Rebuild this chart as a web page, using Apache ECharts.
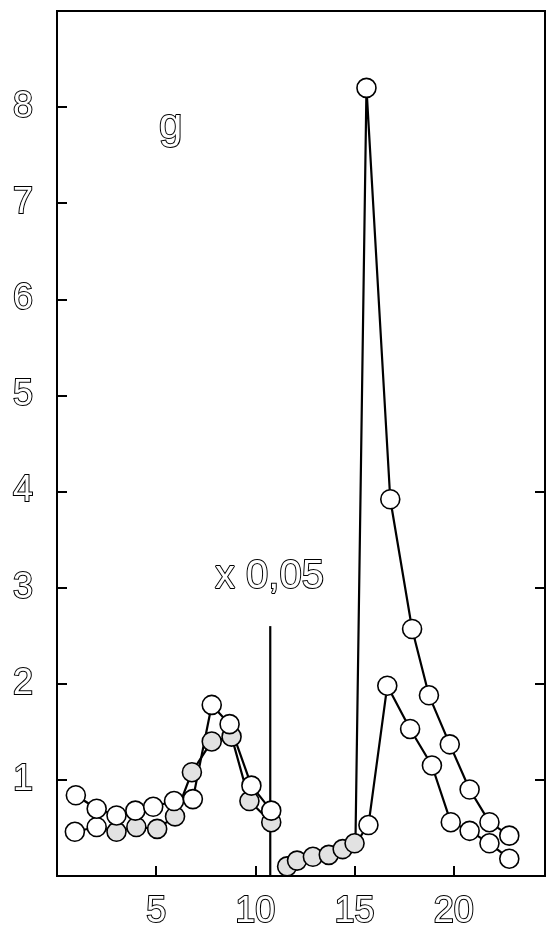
<!DOCTYPE html>
<html><head><meta charset="utf-8">
<script src="https://cdn.jsdelivr.net/npm/echarts@6/dist/echarts.min.js"></script>
<style>html,body{margin:0;padding:0;background:#fff}#c{width:549px;height:935px}</style>
</head><body><div id="c"></div>
<script>
// ---- data (x = fraction, y = value) ----
const xTicks = [5, 10, 15, 20];
const yTicks = [1, 2, 3, 4, 5, 6, 7, 8];
const rightTicks = [1, 2, 3, 4];
const upperLeft = [[0.95,0.84],[2.0,0.70],[3.0,0.63],[3.95,0.68],[4.85,0.72],[5.9,0.78],[6.85,0.80],[7.8,1.78],[8.7,1.58],[9.8,0.94],[10.8,0.68]];
const lowerLeft = [[0.9,0.46],[2.0,0.51],[3.0,0.46],[4.0,0.51],[5.05,0.49],[5.95,0.62],[6.8,1.08],[7.8,1.40],[8.8,1.45],[9.7,0.78],[10.8,0.56]];
const stippledBottom = [[11.6,0.10],[12.1,0.16],[12.9,0.20],[13.7,0.22],[14.4,0.28],[15.0,0.34]];
const upperRight = [[15.05,0.42],[15.6,8.2],[16.8,3.92],[17.9,2.57],[18.75,1.88],[19.8,1.37],[20.8,0.90],[21.8,0.56],[22.8,0.42]];
const lowerRight = [[15.05,0.34],[15.7,0.53],[16.65,1.98],[17.8,1.53],[18.9,1.15],[19.85,0.56],[20.8,0.47],[21.8,0.34],[22.8,0.18]];
const markerLine = [[10.75,0],[10.75,2.6]];

const WHITE = '#ffffff', STIP = '#e2e2e2';
const labelStyle = {color:'#fff', textBorderColor:'#000', textBorderWidth:2, fontFamily:'Liberation Sans', fontSize:36};
const graphicStyle = {fill:'#fff', stroke:'#000', lineWidth:2, fontFamily:'Liberation Sans'};

function pts(arr, fillFn, noSymbolFirst) {
  return arr.map((p, i) => {
    const o = {value: p, itemStyle: {color: fillFn(i)}};
    if (noSymbolFirst && i === 0) o.symbol = 'none';
    return o;
  });
}
function lineSeries(data) {
  return {type:'line', data, symbol:'circle', symbolSize:19, animation:false,
    lineStyle:{color:'#000', width:2.2},
    itemStyle:{borderColor:'#000', borderWidth:1.6, color:WHITE}, z:3};
}
const chart = echarts.init(document.getElementById('c'), null, {renderer:'canvas'});
chart.setOption({
  animation:false,
  grid:{left:57, right:4, top:11, bottom:59, show:true, borderColor:'#000', borderWidth:2, backgroundColor:'transparent'},
  xAxis:{type:'value', min:0, max:24.6,
    axisLine:{show:true, lineStyle:{color:'#000', width:2}},
    axisTick:{show:true, inside:true, length:10, customValues:xTicks, lineStyle:{color:'#000', width:2}},
    axisLabel:{customValues:xTicks, margin:18, ...labelStyle},
    splitLine:{show:false}},
  yAxis:[{type:'value', min:0, max:9,
    axisLine:{show:true, lineStyle:{color:'#000', width:2}},
    axisTick:{show:true, inside:true, length:10, customValues:yTicks, lineStyle:{color:'#000', width:2}},
    axisLabel:{customValues:yTicks, margin:24, ...labelStyle},
    splitLine:{show:false}},
   {type:'value', min:0, max:9, position:'right',
    axisLine:{show:true, lineStyle:{color:'#000', width:2}},
    axisTick:{show:true, inside:true, length:10, customValues:rightTicks, lineStyle:{color:'#000', width:2}},
    axisLabel:{show:false}, splitLine:{show:false}}],
  graphic:[
    {type:'text', left:158, top:104, style:{text:'g', ...graphicStyle, fontSize:42}},
    {type:'text', left:214, top:556, style:{text:'x 0,05', ...graphicStyle, fontSize:40}}
  ],
  series:[
    {type:'line', data:markerLine, symbol:'none', lineStyle:{color:'#000', width:2.2}, z:2},
    lineSeries(pts(stippledBottom, () => STIP, false)),
    lineSeries(pts(lowerLeft, i => (i < 2 ? WHITE : STIP), false)),
    lineSeries(pts(upperLeft, () => WHITE, false)),
    lineSeries(pts(upperRight, () => WHITE, true)),
    lineSeries(pts(lowerRight, () => WHITE, true))
  ]
});
</script></body></html>
